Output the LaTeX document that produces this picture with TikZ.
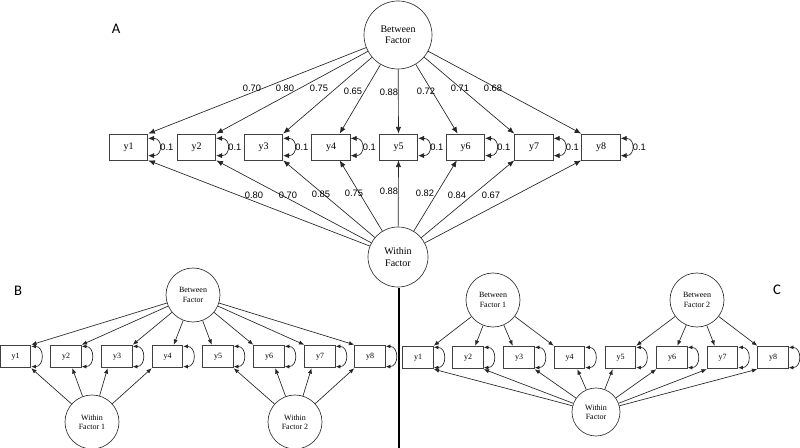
\documentclass[tikz,border=0pt]{standalone}
\usepackage{fontspec}
\setmainfont{Liberation Serif}
\newfontfamily\numfont{Liberation Sans}
\newfontfamily\letfont{Carlito}
\usetikzlibrary{arrows.meta,calc}
\begin{document}
\begin{tikzpicture}[x=0.75pt,y=-0.75pt,
  ln/.style={draw=black!85, line width=0.5pt},
  arA/.style={ln,-{Latex[length=5pt,width=4pt]}},
  arB/.style={ln,-{Latex[length=4pt,width=3.2pt]}},
  lpA/.style={ln,{Latex[length=4.5pt,width=4pt]}-{Latex[length=4.5pt,width=4pt]}},
  lpB/.style={ln,{Latex[length=3.5pt,width=3pt]}-{Latex[length=3.5pt,width=3pt]}},
  latA/.style={circle,draw=black!80,line width=0.5pt,minimum size=51pt,inner sep=0pt,align=center,font=\fontsize{7.5}{8.5}\selectfont},
  latB/.style={circle,draw=black!80,line width=0.5pt,minimum size=40.5pt,inner sep=0pt,align=center,font=\fontsize{6}{7}\selectfont},
  obsA/.style={rectangle,draw=black!75,line width=0.6pt,minimum width=29pt,minimum height=19.5pt,inner sep=0pt,font=\fontsize{7.5}{8.5}\selectfont},
  obsB/.style={rectangle,draw=black!75,line width=0.6pt,minimum width=23pt,minimum height=17pt,inner sep=0pt,font=\fontsize{6}{7}\selectfont},
  num/.style={inner sep=0pt,font=\numfont\fontsize{7}{8}\selectfont},
  panel/.style={inner sep=0pt,font=\letfont\fontsize{11}{12}\selectfont}
]
\useasboundingbox (0,0) rectangle (800,448);

% ---------- Panel A ----------
\node[panel] (LA) at (116,29) {A};
\node[latA] (BA) at (398,35) {Between\\Factor};
\node[latA,minimum size=45pt] (WA) at (398,257) {Within\\Factor};
\foreach \i/\x in {1/128.5,2/196.5,3/263.5,4/331,5/398.5,6/465.5,7/534,8/601}
  \node[obsA] (a\i) at (\x,147) {y\i};
\foreach \i/\f in {1/1,2/1,3/1,4/0.72,5/0.5,6/0.3,7/0,8/0}
  \draw[arA] (BA) -- ($(a\i.north west)!\f!(a\i.north east)$);
\foreach \i/\f in {1/1,2/1,3/1,4/0.72,5/0.5,6/0.28,7/0,8/0}
  \draw[arA] (WA) -- ($(a\i.south west)!\f!(a\i.south east)$);
\foreach \i in {1,...,8}{
  \draw[lpA] ([yshift=6.5pt]a\i.east) .. controls +(11pt,0) and +(11pt,0) .. ([yshift=-6.5pt]a\i.east);
  \node[num] (r\i) at ([xshift=14pt]a\i.east) {0.1};
}
\foreach \v/\x/\y [count=\k] in {0.70/252/88,0.80/285/88,0.75/319/88,0.65/353/91,0.88/389/92,0.72/426/91,0.71/460/88,0.68/493/88}
  \node[num] (t\k) at (\x,\y) {\v};
\foreach \v/\x/\y [count=\k] in {0.80/254/195,0.70/288/195,0.85/321/194,0.75/354/193,0.88/389/191,0.82/425/193,0.84/457/195,0.67/491/195}
  \node[num] (b\k) at (\x,\y) {\v};

% ---------- divider ----------
\coordinate (d1) at (399,288);
\coordinate (d2) at (399,448);
\draw[line width=2pt] (d1) -- (d2);

% ---------- Panel B ----------
\node[panel] (LB) at (18,291) {B};
\node[latB] (BB) at (193,295) {Between\\Factor};
\node[latB] (W1) at (92,422) {Within\\Factor 1};
\node[latB] (W2) at (295,422) {Within\\Factor 2};
\foreach \i/\x in {1/15.5,2/66,3/117,4/167.5,5/218,6/269,7/320,8/370}
  \node[obsB] (b\i) at (\x,356.5) {y\i};
\foreach \i/\f in {1/1,2/1,3/1,4/0.7,5/0.3,6/0,7/0,8/0}
  \draw[arB] (BB) -- ($(b\i.north west)!\f!(b\i.north east)$);
\foreach \i/\f in {1/1,2/0.7,3/0.2,4/0}
  \draw[arB] (W1) -- ($(b\i.south west)!\f!(b\i.south east)$);
\foreach \i/\f in {5/1,6/0.7,7/0.23,8/0}
  \draw[arB] (W2) -- ($(b\i.south west)!\f!(b\i.south east)$);
\foreach \i in {1,...,8}
  \draw[lpB] ([yshift=-1.2pt]b\i.north east) .. controls +(10pt,0) and +(10pt,0) .. ([yshift=1.2pt]b\i.south east);

% ---------- Panel C ----------
\node[panel] (LC) at (777,290) {C};
\node[latB] (B1) at (493,300) {Between\\Factor 1};
\node[latB] (B2) at (697,300) {Between\\Factor 2};
\node[latB,minimum size=36pt] (WC) at (596,412) {Within\\Factor};
\foreach \i/\x in {1/418,2/468,3/519,4/569.5,5/620.5,6/672,7/722.5,8/773}
  \node[obsB] (c\i) at (\x,357.5) {y\i};
\foreach \i/\f in {1/1,2/0.73,3/0.3,4/0}
  \draw[arB] (B1) -- ($(c\i.north west)!\f!(c\i.north east)$);
\foreach \i/\f in {5/1,6/0.67,7/0.25,8/0}
  \draw[arB] (B2) -- ($(c\i.north west)!\f!(c\i.north east)$);
\foreach \i/\f in {1/1,2/1,3/1,4/0.75,5/0.25,6/0,7/0,8/0}
  \draw[arB] (WC) -- ($(c\i.south west)!\f!(c\i.south east)$);
\foreach \i in {1,...,8}
  \draw[lpB] ([yshift=-1.2pt]c\i.north east) .. controls +(10pt,0) and +(10pt,0) .. ([yshift=1.2pt]c\i.south east);
\end{tikzpicture}
\end{document}
